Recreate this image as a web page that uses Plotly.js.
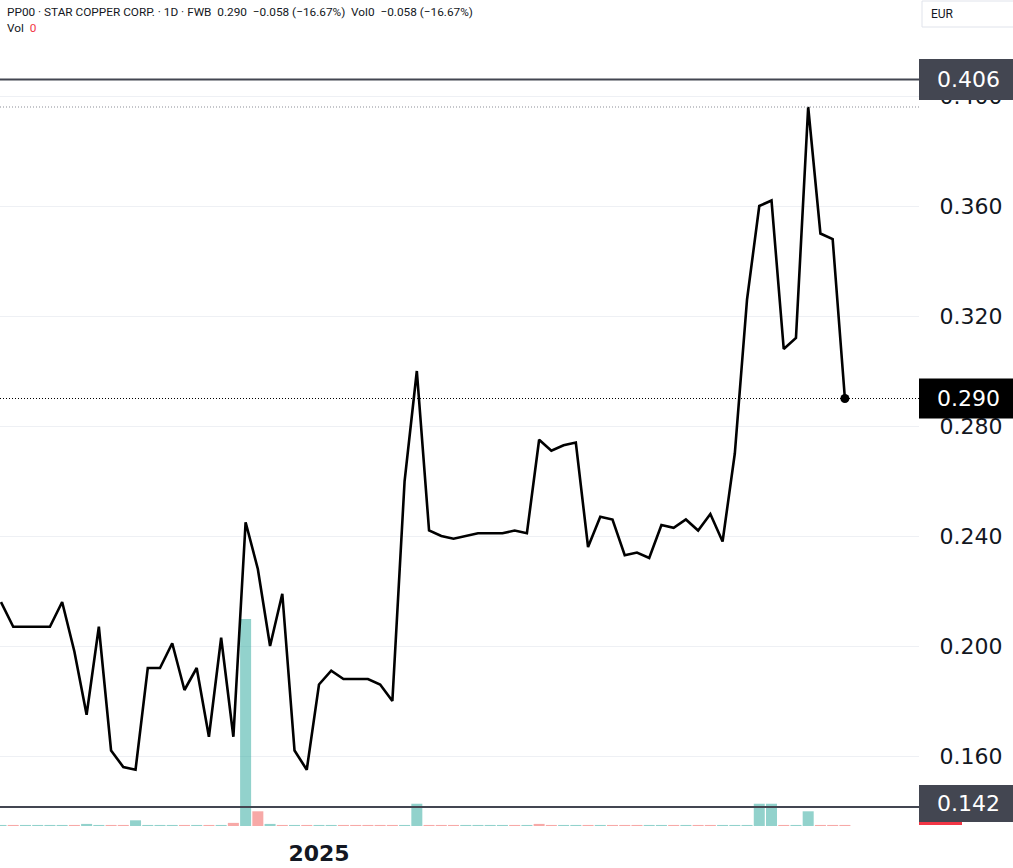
<!DOCTYPE html>
<html>
<head>
<meta charset="utf-8">
<script src="https://cdn.plot.ly/plotly-3.0.1.min.js"></script>
<style>
  html, body { margin: 0; padding: 0; background: #ffffff; }
  #chart { width: 1013px; height: 868px; }
</style>
</head>
<body>
<div id="chart"></div>
<script>
// ---- Data ----
const dates = [
  "2024-11-20","2024-11-21","2024-11-22","2024-11-25","2024-11-26","2024-11-27","2024-11-28","2024-11-29",
  "2024-12-02","2024-12-03","2024-12-04","2024-12-05","2024-12-06","2024-12-09","2024-12-10","2024-12-11",
  "2024-12-12","2024-12-13","2024-12-16","2024-12-17","2024-12-18","2024-12-19","2024-12-20","2024-12-23",
  "2024-12-27","2024-12-30","2025-01-02","2025-01-03","2025-01-06","2025-01-07","2025-01-08","2025-01-09",
  "2025-01-10","2025-01-13","2025-01-14","2025-01-15","2025-01-16","2025-01-17","2025-01-20","2025-01-21",
  "2025-01-22","2025-01-23","2025-01-24","2025-01-27","2025-01-28","2025-01-29","2025-01-30","2025-01-31",
  "2025-02-03","2025-02-04","2025-02-05","2025-02-06","2025-02-07","2025-02-10","2025-02-11","2025-02-12",
  "2025-02-13","2025-02-14","2025-02-17","2025-02-18","2025-02-19","2025-02-20","2025-02-21","2025-02-24",
  "2025-02-25","2025-02-26","2025-02-27","2025-02-28","2025-03-03","2025-03-04"
];

const closes = [
  0.216, 0.207, 0.207, 0.207, 0.207, 0.216, 0.198, 0.175,
  0.207, 0.162, 0.156, 0.155, 0.192, 0.192, 0.201, 0.184,
  0.192, 0.167, 0.203, 0.167, 0.245, 0.228, 0.200, 0.219,
  0.162, 0.155, 0.186, 0.191, 0.188, 0.188, 0.188, 0.186,
  0.180, 0.260, 0.300, 0.242, 0.240, 0.239, 0.240, 0.241,
  0.241, 0.241, 0.242, 0.241, 0.275, 0.271, 0.273, 0.274,
  0.236, 0.247, 0.246, 0.233, 0.234, 0.232, 0.244, 0.243,
  0.246, 0.242, 0.248, 0.238, 0.270, 0.326, 0.360, 0.362,
  0.308, 0.312, 0.396, 0.350, 0.348, 0.290
];

const volumes = [
  100, 100, 100, 100, 100, 100, 100, 200,
  100, 100, 100, 550, 100, 100, 100, 100,
  100, 100, 100, 300, 20000, 1420, 200, 100,
  100, 100, 100, 100, 100, 100, 100, 100,
  100, 100, 2150, 100, 100, 100, 100, 100,
  100, 100, 100, 100, 200, 100, 100, 100,
  100, 100, 100, 100, 100, 100, 100, 100,
  100, 100, 100, 100, 100, 100, 2150, 2150,
  100, 100, 1420, 100, 100, 100
];

// 1 = up (teal), 0 = down (red) volume bar
const volUp = [
  1, 0, 1, 1, 1, 1, 0, 1,
  1, 0, 0, 1, 1, 1, 1, 0,
  1, 0, 1, 0, 1, 0, 1, 0,
  1, 0, 1, 1, 0, 0, 0, 0,
  0, 1, 1, 0, 0, 0, 1, 1,
  1, 1, 0, 1, 0, 0, 1, 1,
  0, 1, 0, 0, 0, 1, 1, 0,
  1, 0, 0, 1, 1, 1, 1, 1,
  0, 1, 1, 0, 0, 0
];

const yTicks = [0.160, 0.200, 0.240, 0.280, 0.320, 0.360, 0.400];
const highLine = 0.406;
const lowLine = 0.142;
const peakLine = 0.396;
const lastPrice = 0.290;
const yearTickDate = "2025-01-02";
const yearTickLabel = "2025";
const headerText = "PP00 · STAR COPPER CORP. · 1D · FWB&nbsp;&nbsp;0.290&nbsp;&nbsp;−0.058 (−16.67%)&nbsp;&nbsp;Vol0&nbsp;&nbsp;−0.058 (−16.67%)";

// ---- Styling / layout ----
const UP = "rgba(38,166,154,0.5)";
const DOWN = "rgba(239,83,80,0.5)";
const DARK = "#434651";
const pxPerUnit = 2750;               // price axis scale (pixels per 1.0)
const plotH = 826;
const yMin = 0.24 - (plotH - 536) / pxPerUnit;
const yMax = 0.24 + 536 / pxPerUnit;
const px = p => p / pxPerUnit;

const volTrace = {
  type: "bar",
  x: dates,
  y: volumes,
  yaxis: "y",
  marker: { color: volUp.map(u => u ? UP : DOWN), line: { width: 0 } },
  width: 0.9,
  hoverinfo: "skip",
  showlegend: false
};

const lineTrace = {
  type: "scatter",
  mode: "lines",
  x: dates,
  y: closes,
  yaxis: "y2",
  line: { color: "#000000", width: 2.6 },
  hoverinfo: "skip",
  showlegend: false
};

const lastPoint = {
  type: "scatter",
  mode: "markers",
  x: [dates[dates.length - 1]],
  y: [closes[closes.length - 1]],
  yaxis: "y2",
  marker: { color: "#000000", size: 9 },
  hoverinfo: "skip",
  showlegend: false
};

const AXFONT = { family: "DejaVu Sans", size: 22, color: "#131722" };

const layout = {
  width: 1013,
  height: 868,
  margin: { l: 0, r: 94, t: 0, b: 868 - plotH },
  paper_bgcolor: "#ffffff",
  plot_bgcolor: "#ffffff",
  showlegend: false,
  bargap: 0.1,
  xaxis: {
    type: "category",
    range: [-0.082, 75.06],
    showgrid: false,
    zeroline: false,
    showline: false,
    ticks: "outside",
    ticklen: 8,
    tickcolor: "rgba(0,0,0,0)",
    tickvals: [yearTickDate],
    ticktext: [yearTickLabel],
    tickfont: { family: "DejaVu Sans", size: 22, color: "#131722", weight: 700 }
  },
  yaxis: {
    range: [0, 20000 * plotH / 207],
    showgrid: false,
    zeroline: false,
    showticklabels: false,
    fixedrange: true
  },
  yaxis2: {
    overlaying: "y",
    side: "right",
    range: [yMin, yMax],
    tickvals: yTicks,
    tickformat: ".3f",
    tickfont: AXFONT,
    ticks: "outside",
    ticklen: 15,
    tickcolor: "rgba(0,0,0,0)",
    showgrid: true,
    gridcolor: "#eef0f4",
    gridwidth: 1,
    zeroline: false,
    showline: false
  },
  shapes: [
    // high line
    { type: "line", xref: "paper", x0: 0, x1: 1, yref: "y2", y0: highLine, y1: highLine,
      line: { color: DARK, width: 2 }, layer: "above" },
    // peak dotted line
    { type: "line", xref: "paper", x0: 0, x1: 1, yref: "y2", y0: peakLine, y1: peakLine,
      line: { color: "#8a8d96", width: 1, dash: "1px,2px" }, layer: "above" },
    // last price dotted line
    { type: "line", xref: "paper", x0: 0, x1: 1, yref: "y2", y0: lastPrice, y1: lastPrice,
      line: { color: "#000000", width: 1, dash: "1px,2px" }, layer: "above" },
    // low line
    { type: "line", xref: "paper", x0: 0, x1: 1, yref: "y2", y0: lowLine - px(1.5), y1: lowLine - px(1.5),
      line: { color: DARK, width: 2.2 }, layer: "above" },
    // label boxes
    { type: "rect", xref: "paper", x0: 1, x1: 1.2, yref: "y2",
      y0: highLine - px(20.5), y1: highLine + px(20.5),
      fillcolor: DARK, line: { width: 0 }, layer: "above" },
    { type: "rect", xref: "paper", x0: 1, x1: 1.2, yref: "y2",
      y0: lastPrice - px(20), y1: lastPrice + px(20),
      fillcolor: "#000000", line: { width: 0 }, layer: "above" },
    { type: "rect", xref: "paper", x0: 1, x1: 1.2, yref: "y2",
      y0: lowLine - px(16.5), y1: lowLine + px(20.5),
      fillcolor: DARK, line: { width: 0 }, layer: "above" },
    // red volume marker under low box
    { type: "rect", xref: "paper", x0: 1, x1: 962 / 919, yref: "paper",
      y0: 1 - 825 / plotH, y1: 1 - 822 / plotH,
      fillcolor: "#f23645", line: { width: 0 }, layer: "above" },
    // EUR button
    { type: "path", xref: "paper", yref: "paper",
      path: `M ${922/919} ${1 - 27/plotH} L ${1030/919} ${1 - 27/plotH} L ${1030/919} ${1 - 1/plotH} L ${922/919} ${1 - 1/plotH} Z`,
      fillcolor: "#ffffff", line: { color: "#e0e3eb", width: 1 }, layer: "above" }
  ],
  annotations: [
    { xref: "paper", yref: "paper", x: 5 / 919, y: 1 - 12 / plotH, xanchor: "left", yanchor: "middle",
      text: headerText, showarrow: false, font: { family: "Roboto", size: 11.8, color: "#131722" } },
    { xref: "paper", yref: "paper", x: 5 / 919, y: 1 - 28 / plotH, xanchor: "left", yanchor: "middle",
      text: 'Vol&nbsp;&nbsp;<span style="color:#f23645">0</span>', showarrow: false,
      font: { family: "Roboto", size: 11.8, color: "#131722" } },
    { xref: "paper", yref: "paper", x: 929 / 919, y: 1 - 14 / plotH, xanchor: "left", yanchor: "middle",
      text: "EUR", showarrow: false, font: { family: "Roboto", size: 12, color: "#131722" } },
    { xref: "paper", yref: "y2", x: 935 / 919, y: highLine, xanchor: "left", yanchor: "middle",
      text: highLine.toFixed(3), showarrow: false, font: { family: "DejaVu Sans", size: 22, color: "#ffffff" } },
    { xref: "paper", yref: "y2", x: 935 / 919, y: lastPrice, xanchor: "left", yanchor: "middle",
      text: lastPrice.toFixed(3), showarrow: false, font: { family: "DejaVu Sans", size: 22, color: "#ffffff" } },
    { xref: "paper", yref: "y2", x: 935 / 919, y: lowLine + px(2), xanchor: "left", yanchor: "middle",
      text: lowLine.toFixed(3), showarrow: false, font: { family: "DejaVu Sans", size: 22, color: "#ffffff" } }
  ]
};

Plotly.newPlot("chart", [volTrace, lineTrace, lastPoint], layout, { staticPlot: true, displayModeBar: false });
</script>
</body>
</html>
